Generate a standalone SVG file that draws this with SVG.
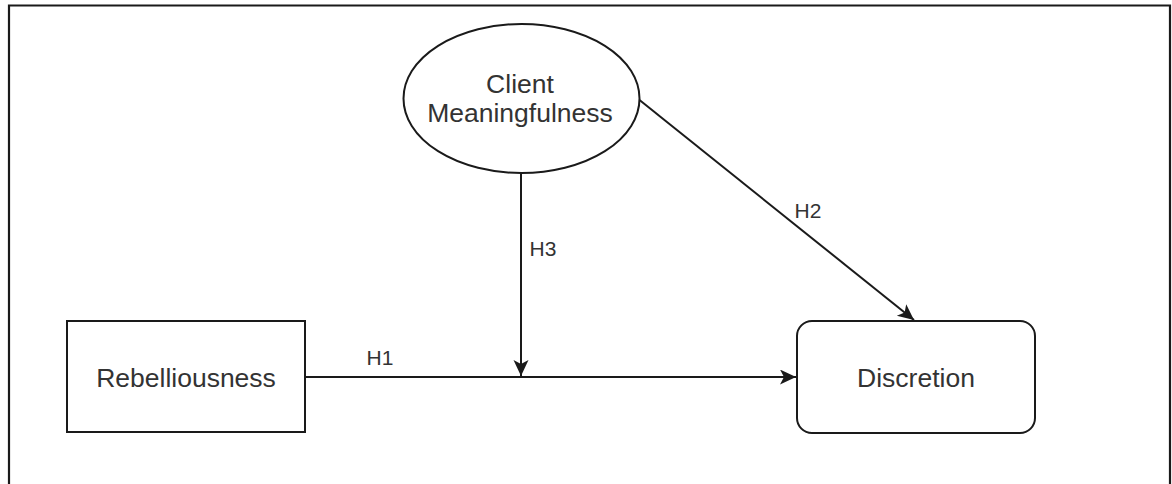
<svg xmlns="http://www.w3.org/2000/svg" width="1172" height="484" viewBox="0 0 1172 484">
  <style>
    .shape { fill: #ffffff; stroke: #1a1a1a; stroke-width: 2; }
    .edge { fill: none; stroke: #1a1a1a; stroke-width: 2; }
    .node-text { font-family: "Liberation Sans", Arial, sans-serif; font-size: 26.5px; fill: #333333; text-anchor: middle; }
    .label { font-family: "Liberation Sans", Arial, sans-serif; font-size: 21px; fill: #333333; text-anchor: middle; }
    .frame { fill: none; stroke: #1a1a1a; stroke-width: 2.2; }
  </style>
  <defs>
    <marker id="arrow" markerUnits="userSpaceOnUse" markerWidth="17" markerHeight="16" refX="16" refY="7.5" orient="auto">
      <path d="M0,0 L16,7.5 L0,15 L4,7.5 Z" fill="#1a1a1a"/>
    </marker>
  </defs>
  <rect x="0" y="0" width="1172" height="484" fill="#ffffff"/>
  <path class="frame" d="M9,484 L9,5.5 L1170,5.5 L1170,484"/>

  <g id="connectors">
    <line class="edge" x1="305" y1="377" x2="796" y2="377" marker-end="url(#arrow)"/>
    <line class="edge" x1="521" y1="173" x2="521" y2="376" marker-end="url(#arrow)"/>
    <line class="edge" x1="637" y1="98" x2="914" y2="320" marker-end="url(#arrow)"/>
    <text class="label" x="380" y="365">H1</text>
    <text class="label" x="543" y="256">H3</text>
    <text class="label" x="808" y="218">H2</text>
  </g>

  <g id="node-client-meaningfulness">
    <ellipse class="shape" cx="521.5" cy="98.5" rx="118" ry="74.5"/>
    <text class="node-text" x="520" y="93">Client</text>
    <text class="node-text" x="520" y="122">Meaningfulness</text>
  </g>

  <g id="node-rebelliousness">
    <rect class="shape" x="67" y="321" width="238" height="111"/>
    <text class="node-text" x="186" y="387">Rebelliousness</text>
  </g>

  <g id="node-discretion">
    <rect class="shape" x="797" y="321" width="238" height="112" rx="15" ry="15"/>
    <text class="node-text" x="916" y="387">Discretion</text>
  </g>
</svg>
